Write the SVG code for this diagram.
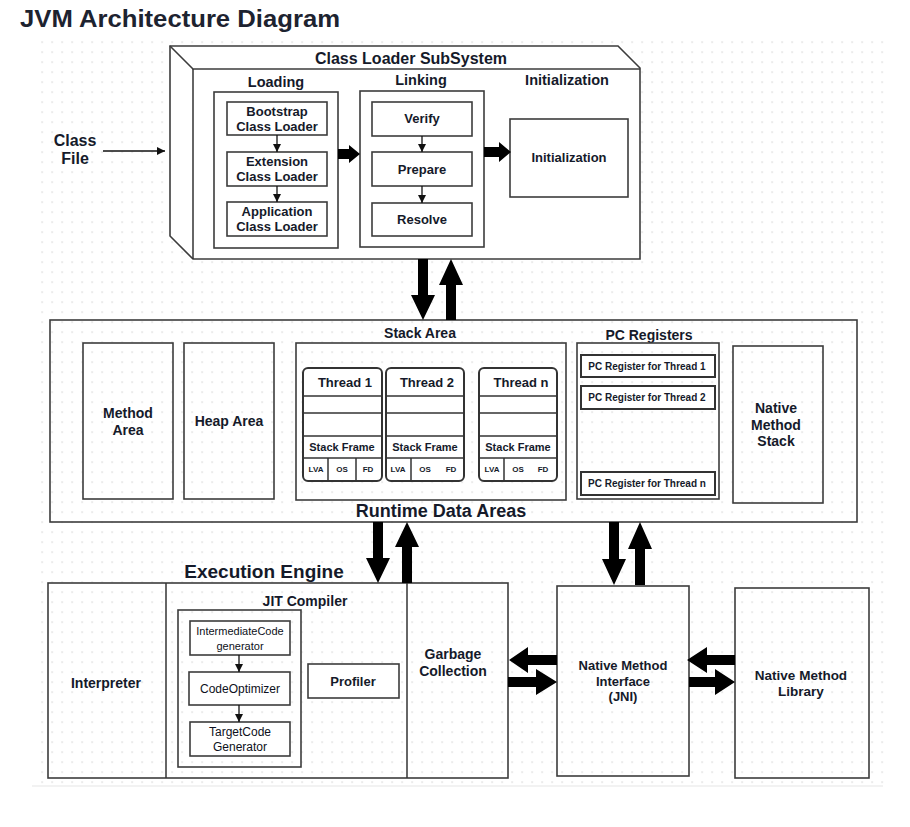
<svg xmlns="http://www.w3.org/2000/svg" width="910" height="827" viewBox="0 0 910 827">
<defs>
<pattern id="grid" x="1.5" y="1.5" width="10" height="10" patternUnits="userSpaceOnUse">
<rect x="0" y="0" width="1.2" height="1.2" fill="#c8c8c8"/>
</pattern>
<marker id="ah" markerUnits="userSpaceOnUse" markerWidth="9" markerHeight="9" refX="8" refY="4" orient="auto">
<path d="M0,0 L8,4 L0,8 z" fill="#111"/>
</marker>
<style>
.t{font-family:"Liberation Sans",Arial,sans-serif;font-weight:bold;fill:#151a2a;text-anchor:middle}
.r{font-weight:normal;fill:#0d1020}
.box{fill:none;stroke:#3c3c3c;stroke-width:1.6}
.wbox{fill:#fff;stroke:#3c3c3c;stroke-width:1.6}
.thr{fill:#fff;stroke:#333;stroke-width:2}
.ln{stroke:#333;stroke-width:1.5}
.thin{stroke:#111;stroke-width:1.3;fill:none;marker-end:url(#ah)}
.blk{fill:#000}
</style>
</defs>
<rect width="910" height="827" fill="#fff"/>
<rect x="35" y="37" width="850" height="748" fill="url(#grid)"/>
<line x1="32" y1="786" x2="883" y2="786" stroke="#e6e6e6" stroke-width="1.2"/>

<text class="t" x="20" y="27" style="text-anchor:start;font-size:23px;fill:#1d2330" textLength="320" lengthAdjust="spacingAndGlyphs">JVM Architecture Diagram</text>

<!-- Class file -->
<g id="classfile">
<text class="t" x="75" y="146" style="font-size:16px">Class</text>
<text class="t" x="75" y="164" style="font-size:16px">File</text>
</g>

<!-- Class Loader Subsystem -->
<g id="classloader">
<polygon points="170,46 618,46 640,68 640,259 193,259 170,236" class="wbox"/>
<polyline points="170,46 193,69 640,69" class="box"/>
<line x1="193" y1="69" x2="193" y2="259" class="ln"/>
<text class="t" x="411" y="64" style="font-size:16px">Class Loader SubSystem</text>
</g>

<g id="loading">
<text class="t" x="276" y="87" style="font-size:14.5px">Loading</text>
<rect x="214" y="92" width="124" height="156" class="box"/>
</g>
<g id="bootstrap">
<rect x="227" y="102" width="100" height="33" class="wbox"/>
<text class="t" x="277" y="116" style="font-size:13px">Bootstrap</text>
<text class="t" x="277" y="131" style="font-size:13px">Class Loader</text>
</g>
<g id="extension">
<rect x="227" y="152" width="100" height="34" class="wbox"/>
<text class="t" x="277" y="166" style="font-size:13px">Extension</text>
<text class="t" x="277" y="181" style="font-size:13px">Class Loader</text>
</g>
<g id="application">
<rect x="227" y="202" width="100" height="34" class="wbox"/>
<text class="t" x="277" y="216" style="font-size:13px">Application</text>
<text class="t" x="277" y="231" style="font-size:13px">Class Loader</text>
</g>

<g id="linking">
<text class="t" x="421" y="85" style="font-size:14.5px">Linking</text>
<rect x="360" y="91" width="124" height="156" class="box"/>
</g>
<g id="verify">
<rect x="372" y="102" width="100" height="34" class="wbox"/>
<text class="t" x="422" y="123" style="font-size:13px">Verify</text>
</g>
<g id="prepare">
<rect x="372" y="152" width="100" height="34" class="wbox"/>
<text class="t" x="422" y="174" style="font-size:13px">Prepare</text>
</g>
<g id="resolve">
<rect x="372" y="203" width="100" height="33" class="wbox"/>
<text class="t" x="422" y="224" style="font-size:13px">Resolve</text>
</g>

<g id="initialization">
<text class="t" x="567" y="85" style="font-size:14.5px">Initialization</text>
<rect x="510" y="119" width="118" height="78" class="wbox"/>
<text class="t" x="569" y="162" style="font-size:13px">Initialization</text>
</g>

<!-- Runtime Data Areas -->
<g id="runtime">
<rect x="50" y="320" width="807" height="202" class="box"/>
<text class="t" x="441" y="517" style="font-size:18px">Runtime Data Areas</text>
</g>
<g id="methodarea">
<rect x="83" y="343" width="90" height="156" class="box"/>
<text class="t" x="128" y="418" style="font-size:14px">Method</text>
<text class="t" x="128" y="435" style="font-size:14px">Area</text>
</g>
<g id="heaparea">
<rect x="184" y="343" width="90" height="156" class="box"/>
<text class="t" x="229" y="426" style="font-size:14px">Heap Area</text>
</g>
<g id="stackarea">
<text class="t" x="420" y="338" style="font-size:14px">Stack Area</text>
<rect x="296" y="343" width="270" height="157" class="box"/>
</g>
<g id="thread1">
<rect x="303" y="368" width="79" height="113" rx="5" class="thr"/>
<line x1="303" y1="396" x2="382" y2="396" class="ln"/>
<line x1="303" y1="413" x2="382" y2="413" class="ln"/>
<line x1="303" y1="436" x2="382" y2="436" class="ln"/>
<line x1="303" y1="458" x2="382" y2="458" class="ln"/>
<line x1="328" y1="458" x2="328" y2="481" class="ln"/>
<line x1="356" y1="458" x2="356" y2="481" class="ln"/>
<text class="t" x="345" y="387" style="font-size:13px">Thread 1</text>
<text class="t" x="342" y="451" style="font-size:11px">Stack Frame</text>
<text class="t" x="316" y="472" style="font-size:8px">LVA</text>
<text class="t" x="342" y="472" style="font-size:8px">OS</text>
<text class="t" x="368" y="472" style="font-size:8px">FD</text>
</g>
<g id="thread2">
<rect x="386" y="368" width="78" height="113" rx="5" class="thr"/>
<line x1="386" y1="396" x2="464" y2="396" class="ln"/>
<line x1="386" y1="413" x2="464" y2="413" class="ln"/>
<line x1="386" y1="436" x2="464" y2="436" class="ln"/>
<line x1="386" y1="458" x2="464" y2="458" class="ln"/>
<line x1="411" y1="458" x2="411" y2="481" class="ln"/>
<text class="t" x="427" y="387" style="font-size:13px">Thread 2</text>
<text class="t" x="425" y="451" style="font-size:11px">Stack Frame</text>
<text class="t" x="398" y="472" style="font-size:8px">LVA</text>
<text class="t" x="425" y="472" style="font-size:8px">OS</text>
<text class="t" x="451" y="472" style="font-size:8px">FD</text>
</g>
<g id="threadn">
<rect x="479" y="368" width="78" height="113" rx="5" class="thr"/>
<line x1="479" y1="396" x2="557" y2="396" class="ln"/>
<line x1="479" y1="413" x2="557" y2="413" class="ln"/>
<line x1="479" y1="436" x2="557" y2="436" class="ln"/>
<line x1="479" y1="458" x2="557" y2="458" class="ln"/>
<line x1="504" y1="458" x2="504" y2="481" class="ln"/>
<text class="t" x="521" y="387" style="font-size:13px">Thread n</text>
<text class="t" x="518" y="451" style="font-size:11px">Stack Frame</text>
<text class="t" x="492" y="472" style="font-size:8px">LVA</text>
<text class="t" x="518" y="472" style="font-size:8px">OS</text>
<text class="t" x="543" y="472" style="font-size:8px">FD</text>
</g>
<g id="pcregisters">
<text class="t" x="649" y="340" style="font-size:14px">PC Registers</text>
<rect x="577" y="343" width="142" height="156" class="box"/>
</g>
<g id="pc1">
<rect x="581" y="355" width="134" height="22" class="thr"/>
<text class="t" x="647" y="369.5" style="font-size:10px">PC Register for Thread 1</text>
</g>
<g id="pc2">
<rect x="581" y="386" width="134" height="23" class="thr"/>
<text class="t" x="647" y="401" style="font-size:10px">PC Register for Thread 2</text>
</g>
<g id="pcn">
<rect x="581" y="472" width="134" height="23" class="thr"/>
<text class="t" x="647" y="487" style="font-size:10px">PC Register for Thread n</text>
</g>
<g id="nativestack">
<rect x="733" y="346" width="90" height="157" class="box"/>
<text class="t" x="776" y="413" style="font-size:14px">Native</text>
<text class="t" x="776" y="429.5" style="font-size:14px">Method</text>
<text class="t" x="776" y="446" style="font-size:14px">Stack</text>
</g>

<!-- Execution Engine -->
<g id="execution">
<text class="t" x="264" y="578" style="font-size:19px">Execution Engine</text>
<rect x="48" y="583" width="460" height="195" class="box"/>
</g>
<g id="interpreter">
<line x1="166" y1="583" x2="166" y2="778" class="ln"/>
<text class="t" x="106" y="688" style="font-size:14px">Interpreter</text>
</g>
<g id="jit">
<text class="t" x="305" y="606" style="font-size:14px">JIT Compiler</text>
<rect x="178" y="610" width="123" height="157" class="box"/>
</g>
<g id="icg">
<rect x="190" y="621" width="100" height="34" class="wbox"/>
<text class="t r" x="240" y="634.5" style="font-size:11px">IntermediateCode</text>
<text class="t r" x="240" y="650" style="font-size:11px">generator</text>
</g>
<g id="optimizer">
<rect x="189" y="672" width="101" height="33" class="wbox"/>
<text class="t r" x="240" y="692.5" style="font-size:12px">CodeOptimizer</text>
</g>
<g id="tcg">
<rect x="190" y="722" width="100" height="34" class="wbox"/>
<text class="t r" x="240" y="736" style="font-size:12px">TargetCode</text>
<text class="t r" x="240" y="751" style="font-size:12px">Generator</text>
</g>
<g id="profiler">
<rect x="308" y="664" width="91" height="34" class="wbox"/>
<text class="t" x="353" y="685.5" style="font-size:13px">Profiler</text>
</g>
<g id="garbage">
<line x1="407" y1="583" x2="407" y2="778" class="ln"/>
<text class="t" x="453" y="659" style="font-size:14px">Garbage</text>
<text class="t" x="453" y="676" style="font-size:14px">Collection</text>
</g>
<g id="jni">
<rect x="557" y="586" width="132" height="190" class="box"/>
<text class="t" x="623" y="670" style="font-size:13px">Native Method</text>
<text class="t" x="623" y="686" style="font-size:13px">Interface</text>
<text class="t" x="623" y="701" style="font-size:13px">(JNI)</text>
</g>
<g id="nativelib">
<rect x="735" y="588" width="134" height="190" class="box"/>
<text class="t" x="801" y="680" style="font-size:13.5px">Native Method</text>
<text class="t" x="801" y="696" style="font-size:13.5px">Library</text>
</g>

<!-- Connectors -->
<g id="connectors">
<line x1="103" y1="151" x2="165" y2="151" class="thin"/>
<line x1="277" y1="135" x2="277" y2="152" class="thin"/>
<line x1="277" y1="186" x2="277" y2="202" class="thin"/>
<line x1="422" y1="136" x2="422" y2="152" class="thin"/>
<line x1="422" y1="186" x2="422" y2="203" class="thin"/>
<line x1="239" y1="655" x2="239" y2="672" class="thin"/>
<line x1="239" y1="705" x2="239" y2="722" class="thin"/>
<polygon class="blk" points="338,149 349,149 349,145 360,154 349,163 349,159 338,159"/>
<polygon class="blk" points="484,147 499,147 499,142 511,152 499,162 499,157 484,157"/>
<polygon class="blk" points="418,259 428,259 428,295 435,295 423,320 411,295 418,295"/>
<polygon class="blk" points="451,259 463,285 456,285 456,320 446,320 446,285 439,285"/>
<polygon class="blk" points="373,522 383,522 383,558 390,558 378,583 366,558 373,558"/>
<polygon class="blk" points="407,522 419,547 412,547 412,583 402,583 402,547 395,547"/>
<polygon class="blk" points="609,522 619,522 619,559 626,559 614,585 602,559 609,559"/>
<polygon class="blk" points="640,522 652,549 645,549 645,585 635,585 635,549 628,549"/>
<polygon class="blk" points="509,660 528,647 528,655 557,655 557,665 528,665 528,673"/>
<polygon class="blk" points="508,677 536,677 536,669 557,682 536,695 536,687 508,687"/>
<polygon class="blk" points="687,660 707,647 707,655 735,655 735,665 707,665 707,673"/>
<polygon class="blk" points="689,677 715,677 715,669 735,682 715,695 715,687 689,687"/>
</g>
</svg>
